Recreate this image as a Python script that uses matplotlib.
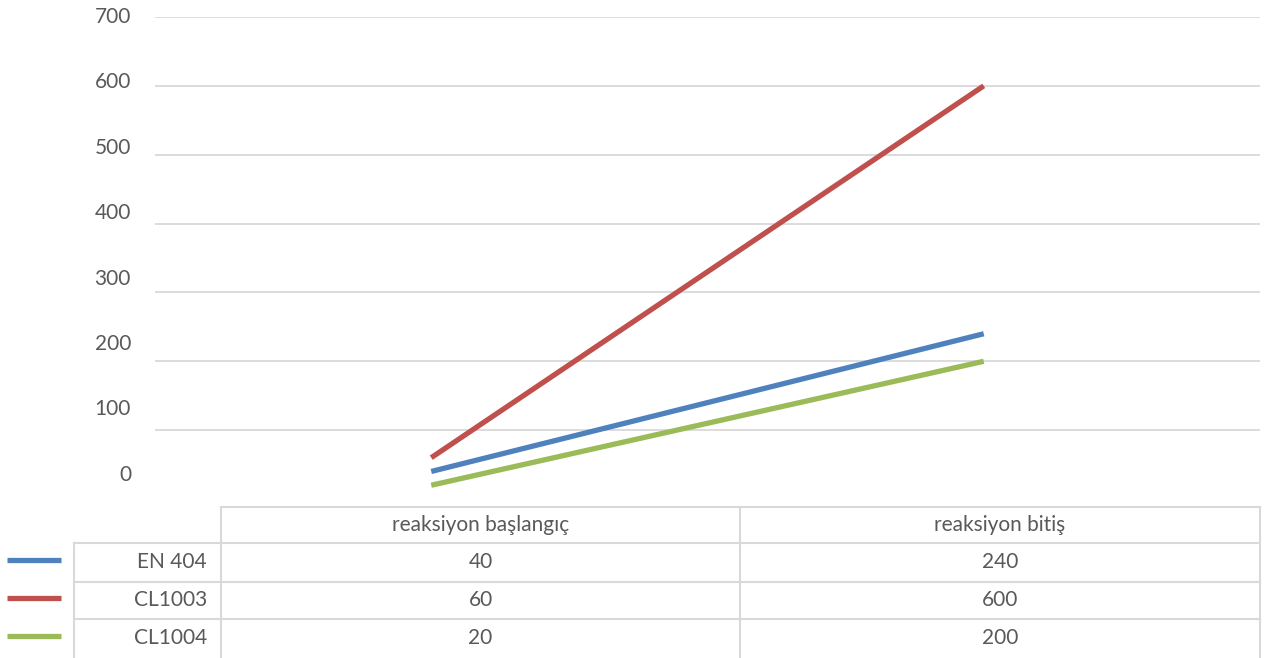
import matplotlib
matplotlib.use("Agg")
import matplotlib.pyplot as plt
from matplotlib.lines import Line2D

# ---- data ----
categories = ["reaksiyon başlangıç", "reaksiyon bitiş"]
series_names = ["EN 404", "CL1003", "CL1004"]
en404 = [40, 240]
cl1003 = [60, 600]
cl1004 = [20, 200]
y_ticks = [0, 100, 200, 300, 400, 500, 600, 700]

series_values = [en404, cl1003, cl1004]
colors = ["#4F81BD", "#C0504D", "#9BBB59"]
text_color = "#595959"
grid_color = "#D9D9D9"
FONT = ["Lato", "DejaVu Sans"]
FS = 15

W, H = 1274, 658
fig = plt.figure(figsize=(W / 100, H / 100), dpi=100)

# plot area in pixels
px_left, px_right, px_top, px_bottom = 155, 1260, 17, 499
ax = fig.add_axes([px_left / W, 1 - px_bottom / H,
                   (px_right - px_left) / W, (px_bottom - px_top) / H])
ax.set_xlim(-0.5, len(categories) - 0.5)
ax.set_ylim(0, 700)
for v in y_ticks[1:]:
    ax.axhline(v, color=grid_color, lw=1.3, zorder=1)
x = list(range(len(categories)))
for vals, c in zip(series_values, colors):
    ax.plot(x, vals, color=c, lw=3.8, solid_capstyle="butt", zorder=3)
ax.set_xticks([])
ax.set_yticks([])
for s in ax.spines.values():
    s.set_visible(False)
ax.patch.set_alpha(0)

# overlay in pixel coordinates for labels and the data table
ov = fig.add_axes([0, 0, 1, 1], zorder=-1)
ov.set_xlim(0, W)
ov.set_ylim(H, 0)
ov.axis("off")

# y tick labels (Excel-style positions)
for v in y_ticks:
    yp = 17 + (700 - v) / 100 * 65.4
    ov.text(131, yp, str(v), ha="right", va="center", color=text_color,
            fontsize=FS, family=FONT)

# data table
tbl_top, hdr_bot = 507, 543
row_lines = [543, 582, 619]
tbl_bot = 658
col_label_left, col1_left, col2_left, col_right = 74, 221, 740, 1260
lw_t = 1.5
def hline(y, x0, x1):
    ov.add_line(Line2D([x0, x1], [y, y], color=grid_color, lw=lw_t))
def vline(xx, y0, y1):
    ov.add_line(Line2D([xx, xx], [y0, y1], color=grid_color, lw=lw_t))

hline(tbl_top, col1_left, col_right)
for y in row_lines:
    hline(y, col_label_left, col_right)
vline(col_label_left, hdr_bot, tbl_bot)
vline(col1_left, tbl_top, tbl_bot)
vline(col2_left, tbl_top, tbl_bot)
vline(col_right, tbl_top, tbl_bot)

col_centers = [(col1_left + col2_left) / 2, (col2_left + col_right) / 2]
for cx, cat in zip(col_centers, categories):
    ov.text(cx, (tbl_top + hdr_bot) / 2, cat, ha="center", va="center",
            color=text_color, fontsize=FS, family=FONT)

row_bounds = row_lines + [tbl_bot]
for i, (name, vals, c) in enumerate(zip(series_names, series_values, colors)):
    yc = (row_bounds[i] + row_bounds[i + 1]) / 2
    ov.add_line(Line2D([7, 61], [yc - 3, yc - 3], color=c, lw=3.8,
                       solid_capstyle="butt"))
    ov.text(207, yc, name, ha="right", va="center", color=text_color,
            fontsize=FS, family=FONT)
    for cx, v in zip(col_centers, vals):
        ov.text(cx, yc, str(v), ha="center", va="center", color=text_color,
                fontsize=FS, family=FONT)

fig.savefig("out.png", dpi=100, facecolor="white")
